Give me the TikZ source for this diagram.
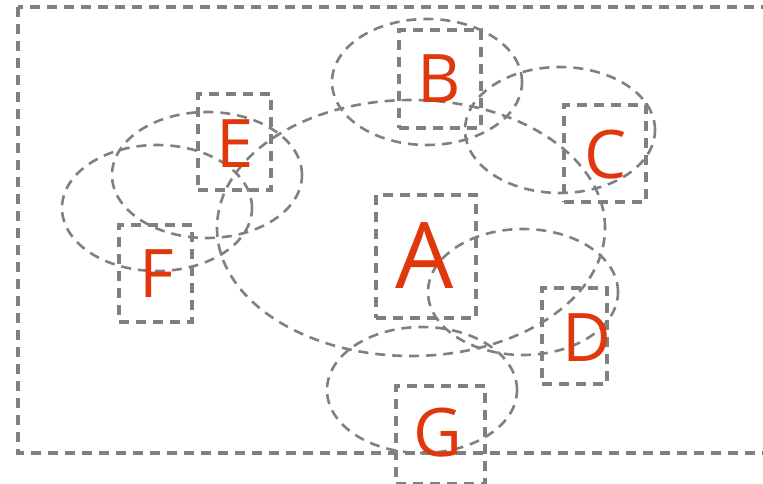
\documentclass[tikz,border=0pt]{standalone}
\usepackage{fontspec}
\setmainfont{Open Sans}
\usetikzlibrary{shapes.geometric}
\definecolor{lbl}{HTML}{E0380C}
\definecolor{ln}{HTML}{808080}
\tikzset{
  dline/.style={draw=ln, line width=2.6pt, dash pattern=on 10pt off 7pt},
  ell/.style={dline, ellipse, inner sep=0pt},
  box/.style={dline, line width=3.2pt, rectangle, inner sep=0pt},
  lab/.style={text=lbl, inner sep=0pt, font=\fontsize{67}{67}\selectfont},
}
\begin{document}
\begin{tikzpicture}[x=1pt,y=-1pt]
\useasboundingbox (0,0) rectangle (763,484);
\begin{scope}
\clip (0,0) rectangle (763,484);
\draw[dline, line width=3.2pt] (18,7) rectangle (790,453);
\end{scope}
% ellipses
\node[ell, minimum width=388pt, minimum height=256pt] (eA) at (411,228) {};
\node[ell, minimum width=190pt, minimum height=126pt] (eB) at (427,82) {};
\node[ell, minimum width=190pt, minimum height=126pt] (eC) at (560,130) {};
\node[ell, minimum width=190pt, minimum height=126pt] (eD) at (523,292) {};
\node[ell, minimum width=190pt, minimum height=126pt] (eE) at (207,175) {};
\node[ell, minimum width=190pt, minimum height=126pt] (eF) at (157,208) {};
\node[ell, minimum width=190pt, minimum height=126pt] (eG) at (422,390) {};
% boxes
\node[box, minimum width=100pt, minimum height=123pt] (rA) at (426,256.5) {};
\node[box, minimum width=82pt, minimum height=98pt] (rB) at (440,79) {};
\node[box, minimum width=82pt, minimum height=97pt] (rC) at (605,153.5) {};
\node[box, minimum width=65pt, minimum height=96pt] (rD) at (574.5,336) {};
\node[box, minimum width=73pt, minimum height=96pt] (rE) at (234.5,142) {};
\node[box, minimum width=73pt, minimum height=97pt] (rF) at (155.5,273.5) {};
\node[box, minimum width=89pt, minimum height=98pt] (rG) at (440.5,435) {};
% labels
\node[lab, font=\fontsize{92}{92}\selectfont] (lA) at (425,256) {A};
\node[lab] (lB) at (439,79) {B};
\node[lab] (lC) at (606,155) {C};
\node[lab] (lD) at (587,338) {D};
\node[lab] (lE) at (235,144) {E};
\node[lab] (lF) at (157,274) {F};
\node[lab] (lG) at (438,433) {G};
\end{tikzpicture}
\end{document}
